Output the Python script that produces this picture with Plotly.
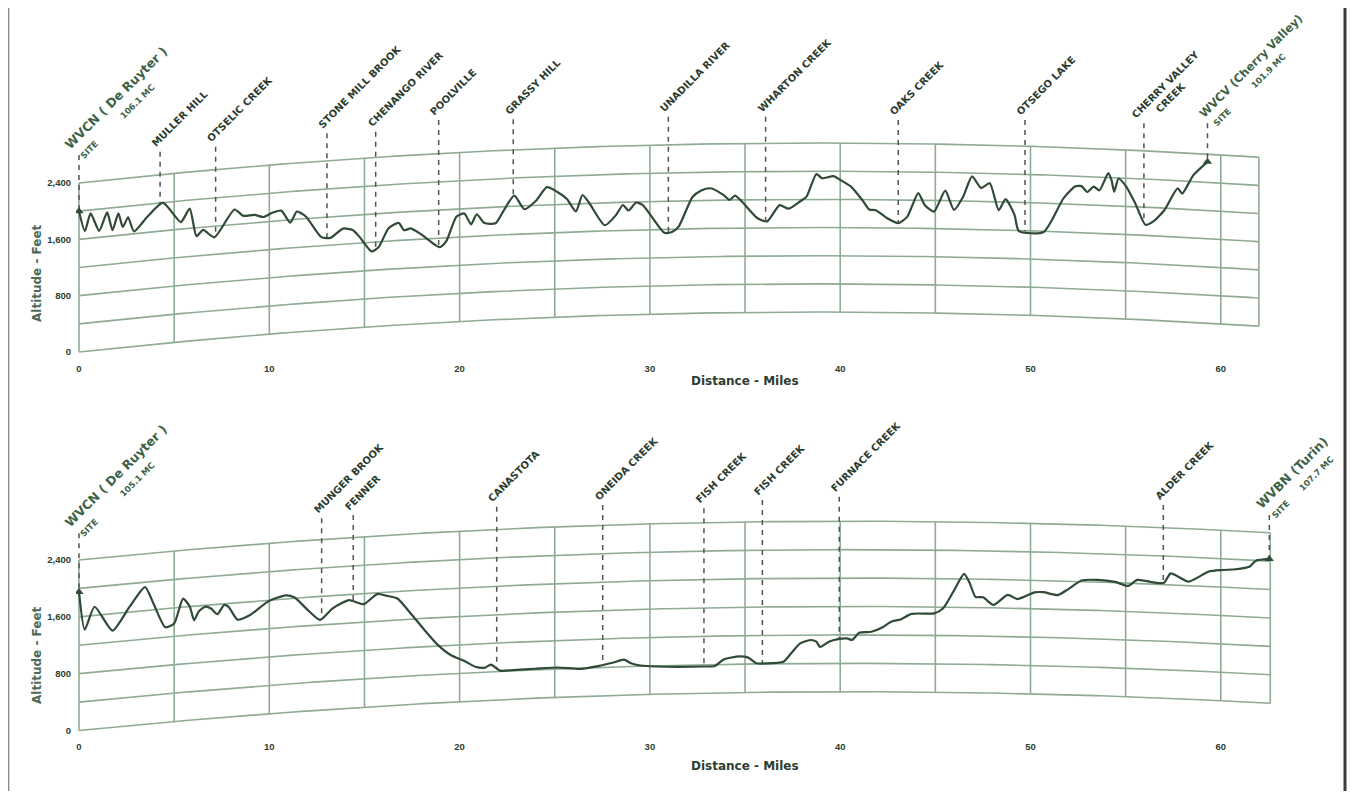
import numpy as np
import plotly.graph_objects as go

# ---------------- DATA ----------------
# Path 1: WVCN (De Ruyter) -> WVCV (Cherry Valley); distance in miles, ground elevation in feet
top_miles = [0.0, 0.31, 0.61, 1.06, 1.48, 1.76, 2.07, 2.30, 2.58, 2.89, 3.59, 4.41, 5.35, 5.82, 6.17,
             6.52, 7.11, 8.17, 8.63, 9.22, 9.69, 10.16, 10.63, 11.10, 11.45, 11.92, 12.74, 13.21,
             13.87, 14.38, 14.73, 15.37, 15.74, 16.26, 16.80, 17.08, 17.43, 18.02, 18.95, 19.30,
             19.83, 20.25, 20.60, 20.90, 21.30, 21.89, 22.24, 22.87, 23.41, 24.00, 24.59, 25.12,
             25.64, 26.11, 26.46, 26.82, 27.63, 28.22, 28.58, 28.88, 29.28, 29.63, 30.10, 30.76,
             31.16, 31.50, 32.24, 32.70, 33.18, 33.88, 34.19, 34.47, 34.82, 35.64, 36.16, 36.82,
             37.29, 37.88, 38.23, 38.75, 39.05, 39.64, 39.99, 40.58, 41.17, 41.52, 41.87, 42.46,
             43.05, 43.52, 44.10, 44.45, 44.93, 45.52, 45.98, 46.46, 46.93, 47.40, 47.86, 48.33,
             48.69, 49.16, 49.39, 50.69, 51.74, 52.34, 52.68, 52.99, 53.32, 53.62, 54.09, 54.26,
             54.40, 54.63, 55.03, 55.50, 56.04, 56.44, 57.03, 57.73, 57.97, 58.56, 59.30]
top_elev_ft = [2000, 1710, 1950, 1690, 1940, 1680, 1910, 1710, 1840, 1630, 1820, 2000, 1700, 1880, 1480,
               1560, 1440, 1810, 1710, 1710, 1670, 1720, 1740, 1560, 1710, 1630, 1320, 1300,
               1420, 1390, 1290, 1070, 1120, 1380, 1450, 1340, 1360, 1260, 1070, 1150,
               1490, 1530, 1370, 1510, 1380, 1370, 1510, 1750, 1550, 1660, 1850, 1780,
               1670, 1490, 1720, 1600, 1280, 1420, 1560, 1480, 1590, 1550, 1380, 1150,
               1160, 1230, 1650, 1740, 1770, 1670, 1600, 1660, 1580, 1340, 1290, 1520,
               1470, 1570, 1640, 1960, 1900, 1930, 1880, 1780, 1590, 1460, 1450, 1340,
               1270, 1360, 1700, 1530, 1440, 1740, 1470, 1660, 1950, 1790, 1860, 1480,
               1640, 1420, 1190, 1190, 1680, 1850, 1860, 1780, 1860, 1810, 2060, 1960,
               1800, 1990, 1880, 1650, 1350, 1400, 1570, 1890, 1820, 2090, 2290]

# Path 2: WVCN (De Ruyter) -> WVBN (Turin)
bot_miles = [0.0, 0.30, 0.82, 1.76, 2.65, 3.47, 3.94, 4.53, 5.00, 5.47, 5.82, 6.05, 6.29, 6.64, 6.92,
             7.27, 7.63, 7.86, 8.33, 8.99, 9.93, 10.86, 11.33, 11.92, 12.67, 13.33, 14.19, 14.61,
             14.97, 15.67, 16.14, 16.73, 17.43, 18.14, 18.84, 19.55, 20.25, 20.83, 21.30, 21.65,
             22.12, 22.82, 23.97, 25.17, 26.35, 27.28, 28.03, 28.64, 28.97, 29.51, 30.33, 32.80,
             33.41, 33.88, 34.70, 35.17, 35.60, 36.12, 37.01, 37.41, 37.88, 38.47, 38.75, 38.94,
             39.41, 39.88, 40.35, 40.63, 41.00, 41.64, 42.23, 42.70, 43.17, 43.75, 44.93, 45.40,
             45.99, 46.51, 46.81, 47.11, 47.51, 48.05, 48.80, 49.31, 49.79, 50.21, 50.68, 51.43,
             51.97, 52.68, 53.50, 54.44, 55.14, 55.61, 56.55, 57.02, 57.37, 58.31, 59.37, 60.08,
             60.79, 61.50, 61.85, 62.55]
bot_elev_ft = [1950, 1410, 1720, 1360, 1670, 1930, 1670, 1340, 1380, 1720, 1600, 1400, 1520, 1580, 1550,
               1460, 1580, 1550, 1360, 1410, 1580, 1650, 1610, 1450, 1270, 1420, 1520, 1480,
               1450, 1580, 1550, 1500, 1280, 1040, 820, 660, 570, 480, 460, 500,
               410, 410, 415, 420, 390, 420, 460, 500, 450, 410, 390, 375,
               380, 470, 510, 490, 410, 405, 425, 540, 680, 730, 705, 630,
               705, 740, 750, 730, 830, 845, 910, 990, 1020, 1100, 1110, 1180,
               1440, 1670, 1540, 1350, 1345, 1240, 1385, 1330, 1380, 1430, 1435, 1400,
               1485, 1615, 1630, 1610, 1560, 1650, 1620, 1625, 1760, 1655, 1810, 1840,
               1860, 1905, 1995, 2030]

top_stations = ["WVCN ( De Ruyter )", "WVCV (Cherry Valley)"]
top_station_freq = ["106.1 MC", "101.9 MC"]
top_station_miles = [0.0, 59.30]
top_feature_labels = ["MULLER HILL", "OTSELIC CREEK", "STONE MILL BROOK", "CHENANGO RIVER",
                      "POOLVILLE", "GRASSY HILL", "UNADILLA RIVER", "WHARTON CREEK",
                      "OAKS CREEK", "OTSEGO LAKE", "CHERRY VALLEY|CREEK"]
top_feature_miles = [4.26, 7.18, 13.03, 15.59, 18.90, 22.82, 30.97, 36.08, 43.05, 49.71, 55.96]

bot_stations = ["WVCN ( De Ruyter )", "WVBN (Turin)"]
bot_station_freq = ["105.1 MC", "107.7 MC"]
bot_station_miles = [0.0, 62.55]
bot_feature_labels = ["MUNGER BROOK", "FENNER", "CANASTOTA", "ONEIDA CREEK", "FISH CREEK",
                      "FISH CREEK", "FURNACE CREEK", "ALDER CREEK"]
bot_feature_miles = [12.75, 14.41, 21.95, 27.52, 32.84, 35.91, 39.95, 56.98]

grid_levels_ft = [0, 400, 800, 1200, 1600, 2000, 2400]
grid_vert_miles = [0, 5, 10, 15, 20, 25, 30, 35, 40, 45, 50, 55, 60]
ytick_vals = [0, 800, 1600, 2400]
ytick_text = ["0", "800", "1,600", "2,400"]
xtick_vals = [0, 10, 20, 30, 40, 50, 60]

# ---------------- LAYOUT (positions / styles) ----------------
# the page body has an 8px margin, so page pixel positions are converted to figure pixels
OFF = 8
W, H = 1339, 783
FONT = "DejaVu Sans"
TICK_FONT = "Liberation Sans"
GRID_C = "#8fab93"
PROF_C = "#2f4a36"
TXT_C = "#2c3d30"
STN_C = "#3e6247"
DASH_C = "#505550"


def fx(px):  # page x pixel -> paper fraction
    return (px - OFF) / W


def fy(py):  # page y pixel -> paper fraction
    return 1 - (py - OFF) / H


# label heights (dashed line tops) in plotted feet, and station label styling
top_feature_label_top = [2844, 2915, 3106, 3128, 3294, 3304, 3341, 3341, 3294, 3294, 3248]
top_station_label_top = [2797, 3248]
bot_feature_label_top = [2988, 3034, 3151, 3175, 3129, 3245, 3292, 3175]
bot_station_label_top = [2777, 3034]
top_site_gap = [12, 11]
bot_site_gap = [12, 6]
top_station_size = [12.5, 11.5]
bot_station_size = [12.5, 12.5]
top_station_xshift = [-20, -14]
bot_station_xshift = [-20, -19]

panels = [
    dict(xa="x", ya="y", k=0.3752, span=77.75, grid_end=62.0,
         ydom_px=(60, 357), yrange=(-71.0, 4146.5),
         miles=top_miles, elev=top_elev_ft,
         stations=top_stations, freq=top_station_freq, st_miles=top_station_miles,
         st_top=top_station_label_top, gaps=top_site_gap, st_size=top_station_size,
         st_xs=top_station_xshift,
         feats=top_feature_labels, f_miles=top_feature_miles, f_top=top_feature_label_top,
         xtitle_y=381, ytitle_y=273),
    dict(xa="x2", ya="y2", k=0.3318, span=81.1, grid_end=62.6,
         ydom_px=(440, 735), yrange=(-63.3, 4089.2),
         miles=bot_miles, elev=bot_elev_ft,
         stations=bot_stations, freq=bot_station_freq, st_miles=bot_station_miles,
         st_top=bot_station_label_top, gaps=bot_site_gap, st_size=bot_station_size,
         st_xs=bot_station_xshift,
         feats=bot_feature_labels, f_miles=bot_feature_miles, f_top=bot_feature_label_top,
         xtitle_y=766, ytitle_y=655),
]

PX_PER_MILE = 19.03
X0_PX = 79
XDOM_PX = (76, 1300)
xrange_ = [(XDOM_PX[0] - X0_PX) / PX_PER_MILE, (XDOM_PX[1] - X0_PX) / PX_PER_MILE]

fig = go.Figure()
annotations = []

for p in panels:
    k, span = p["k"], p["span"]

    def bulge(m, k=k, span=span):
        m = np.asarray(m, dtype=float)
        return k * m * (span - m)

    xa, ya = p["xa"], p["ya"]
    # curved altitude grid
    mm = np.linspace(0, p["grid_end"], 240)
    for lvl in grid_levels_ft:
        fig.add_trace(go.Scatter(x=mm, y=lvl + bulge(mm), mode="lines", xaxis=xa, yaxis=ya,
                                 line=dict(color=GRID_C, width=1.6), hoverinfo="skip", showlegend=False))
    for v in grid_vert_miles + [p["grid_end"]]:
        b = float(bulge(v))
        fig.add_trace(go.Scatter(x=[v, v], y=[b, grid_levels_ft[-1] + b], mode="lines", xaxis=xa, yaxis=ya,
                                 line=dict(color=GRID_C, width=1.6), hoverinfo="skip", showlegend=False))

    miles = np.array(p["miles"], dtype=float)
    elev = np.array(p["elev"], dtype=float)

    # dashed marker lines for features
    for name, mk, top in zip(p["feats"], p["f_miles"], p["f_top"]):
        yp = float(np.interp(mk, miles, elev) + bulge(mk))
        fig.add_trace(go.Scatter(x=[mk, mk], y=[top, yp], mode="lines", xaxis=xa, yaxis=ya,
                                 line=dict(color=DASH_C, width=1.5, dash="5px,5px"),
                                 hoverinfo="skip", showlegend=False))
        if "|" in name:
            a, b2 = name.split("|")
            txt = "<b>" + a + "<br>" + "\u00a0" * 6 + b2 + "</b>"
            xs, ys = -17, -9
        else:
            txt = "<b>" + name + "</b>"
            xs, ys = -13, 0
        annotations.append(dict(x=mk, y=top, xref=xa, yref=ya, text=txt, showarrow=False,
                                textangle=-45, xanchor="left", yanchor="bottom", align="left",
                                xshift=xs, yshift=ys,
                                font=dict(family=FONT, size=10, color=TXT_C)))

    # dashed marker lines and labels for stations
    for name, fq, mk, top, gap, sz, xs in zip(p["stations"], p["freq"], p["st_miles"], p["st_top"],
                                              p["gaps"], p["st_size"], p["st_xs"]):
        yp = float(np.interp(mk, miles, elev) + bulge(mk))
        fig.add_trace(go.Scatter(x=[mk, mk], y=[top, yp], mode="lines", xaxis=xa, yaxis=ya,
                                 line=dict(color=DASH_C, width=1.5, dash="5px,5px"),
                                 hoverinfo="skip", showlegend=False))
        txt = ("<b>" + name + "</b><br><span style='font-size:8.5px'><b>\u00a0SITE" + "\u00a0" * gap +
               fq + "</b></span>")
        annotations.append(dict(x=mk, y=top, xref=xa, yref=ya, text=txt, showarrow=False,
                                textangle=-45, xanchor="left", yanchor="bottom", align="left",
                                xshift=xs, yshift=-10,
                                font=dict(family=FONT, size=sz, color=STN_C)))

    # terrain profile
    fig.add_trace(go.Scatter(x=miles, y=elev + bulge(miles), mode="lines", xaxis=xa, yaxis=ya,
                             line=dict(color=PROF_C, width=2.2, shape="spline", smoothing=0.6),
                             hoverinfo="skip", showlegend=False))
    # site triangles
    ends = [miles[0], miles[-1]]
    fig.add_trace(go.Scatter(x=ends, y=[elev[0] + float(bulge(miles[0])), elev[-1] + float(bulge(miles[-1]))],
                             mode="markers", xaxis=xa, yaxis=ya,
                             marker=dict(symbol="triangle-up", size=8, color=PROF_C),
                             hoverinfo="skip", showlegend=False))

    # axis titles
    annotations.append(dict(x=fx(745), y=fy(p["xtitle_y"]), xref="paper", yref="paper",
                            xanchor="center", yanchor="middle",
                            text="<b>Distance - Miles</b>", showarrow=False,
                            font=dict(family=FONT, size=12, color=TXT_C)))
    annotations.append(dict(x=fx(37), y=fy(p["ytitle_y"]), xref="paper", yref="paper",
                            xanchor="center", yanchor="middle",
                            text="<b>Altitude - Feet</b>", showarrow=False, textangle=-90,
                            font=dict(family=FONT, size=12, color="#4e6a55")))

xdom = [fx(XDOM_PX[0]), fx(XDOM_PX[1])]
axis_common = dict(showgrid=False, zeroline=False, showline=False, ticks="", automargin=False,
                   tickfont=dict(family=TICK_FONT, size=9.5, color=TXT_C, weight="bold"))

layout = dict(
    width=W, height=H, margin=dict(l=0, r=0, t=0, b=0, autoexpand=False),
    paper_bgcolor="white", plot_bgcolor="white", showlegend=False,
    annotations=annotations,
    shapes=[
        dict(type="line", xref="paper", yref="paper", x0=(W - 2) / W, x1=(W - 2) / W, y0=0, y1=1,
             line=dict(color="#3a3a3a", width=3)),
        dict(type="line", xref="paper", yref="paper", x0=0.6 / W, x1=0.6 / W, y0=0, y1=1,
             line=dict(color="#8a8a8a", width=1.5)),
    ],
)
for i, p in enumerate(panels):
    sfx = "" if i == 0 else "2"
    ydom = [fy(p["ydom_px"][1]), fy(p["ydom_px"][0])]
    layout["xaxis" + sfx] = dict(domain=xdom, range=xrange_, anchor="y" + sfx,
                                 tickvals=xtick_vals, ticklabelstandoff=4, **axis_common)
    layout["yaxis" + sfx] = dict(domain=ydom, range=list(p["yrange"]), anchor="x" + sfx,
                                 tickvals=ytick_vals, ticktext=ytick_text, ticklabelstandoff=4,
                                 **axis_common)

fig.update_layout(**layout)
fig.write_html("out.html")
